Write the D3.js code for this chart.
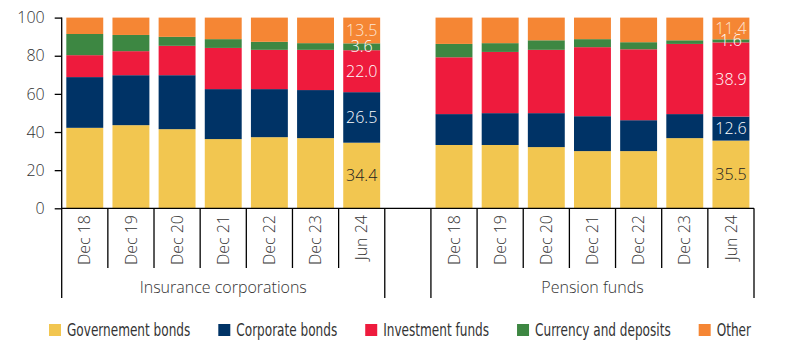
<!DOCTYPE html>
<html>
<head>
<meta charset="utf-8">
<script src="https://cdn.jsdelivr.net/npm/d3@7"></script>
<style>
  html, body { margin: 0; padding: 0; background: #fff; }
  svg { display: block; }
  text { font-family: "Open Sans", sans-serif; font-weight: 300; fill: #333; }
  .legend text { font-family: "DejaVu Sans", sans-serif; font-stretch: condensed; font-weight: 400; fill: #333; }
</style>
</head>
<body>
<svg id="chart" width="792" height="349"></svg>
<script>
// portfolio shares (%), by sector and period
var categories = ["Dec 18", "Dec 19", "Dec 20", "Dec 21", "Dec 22", "Dec 23", "Jun 24"];
var groups = ["Insurance corporations", "Pension funds"];
var seriesNames = ["Governement bonds", "Corporate bonds", "Investment funds", "Currency and deposits", "Other"];
var yTicks = [0, 20, 40, 60, 80, 100];

var insGov   = [42.2, 43.6, 41.5, 36.3, 37.3, 36.8, 34.4];
var insCorp  = [26.6, 26.2, 28.3, 26.2, 25.2, 25.2, 26.5];
var insInv   = [11.5, 12.6, 15.4, 21.6, 20.6, 21.1, 22.0];
var insCur   = [11.1, 8.5, 4.7, 4.6, 4.2, 3.5, 3.6];
var insOther = [8.6, 9.1, 10.1, 11.3, 12.7, 13.4, 13.5];

var penGov   = [33.2, 33.2, 32.1, 30.0, 30.0, 36.8, 35.5];
var penCorp  = [16.2, 16.7, 17.8, 18.3, 16.2, 12.6, 12.6];
var penInv   = [29.8, 32.1, 33.2, 36.2, 37.2, 36.8, 38.9];
var penCur   = [7.0, 4.6, 5.0, 4.2, 3.7, 1.9, 1.6];
var penOther = [13.8, 13.4, 11.9, 11.3, 12.9, 11.9, 11.4];

var colors = ["#F2C650", "#003366", "#EE1B3D", "#3D8742", "#F58634"];
var labelColors = ["#222", "#fff", "#fff", "#fff", "#fde6d6"];
var labelledCategory = "Jun 24";

var groupValues = [
  [insGov, insCorp, insInv, insCur, insOther],
  [penGov, penCorp, penInv, penCur, penOther]
];

// one row per bar; an empty slot sits between the two groups
var rows = [];
var domain = [];
groups.forEach(function(g, gi){
  if (gi > 0) domain.push("gap" + gi);
  categories.forEach(function(c, ci){
    var key = g + "|" + c;
    var row = { key: key, cat: c, group: g };
    seriesNames.forEach(function(s, si){ row[s] = groupValues[gi][si][ci]; });
    rows.push(row);
    domain.push(key);
  });
});

var svg = d3.select("#chart");
var m = { left: 61.7, right: 754, top: 17.6, bottom: 208.3 };

var x = d3.scaleBand().domain(domain).range([m.left, m.right]).paddingInner(0.2).paddingOuter(0.1);
var y = d3.scaleLinear().domain([0, 100]).range([m.bottom, m.top]);
var stack = d3.stack().keys(seriesNames)(rows);

// bars
var layers = svg.append("g").selectAll("g").data(stack).enter().append("g")
  .attr("fill", function(d, i){ return colors[i]; });
layers.selectAll("rect").data(function(d){ return d; }).enter().append("rect")
  .attr("x", function(d){ return x(d.data.key); })
  .attr("width", x.bandwidth())
  .attr("y", function(d){ return y(d[1]); })
  .attr("height", function(d){ return y(d[0]) - y(d[1]); });

// value labels on the latest bars, drawn above every segment
var labels = svg.append("g");
stack.forEach(function(layer, li){
  labels.selectAll(null)
    .data(layer.filter(function(d){ return d.data.cat === labelledCategory; }))
    .enter().append("text")
    .attr("x", function(d){ return x(d.data.key) + x.bandwidth() / 2; })
    .attr("y", function(d){ return y((d[0] + d[1]) / 2); })
    .attr("dy", "0.35em")
    .attr("text-anchor", "middle")
    .style("font-size", "16px")
    .style("fill", labelColors[li])
    .text(function(d){ return d.data[layer.key].toFixed(1); });
});

// y axis
var yAxis = svg.append("g").attr("transform", "translate(" + m.left + ",0)")
  .call(d3.axisLeft(y).tickValues(yTicks).tickSize(7).tickPadding(10));
yAxis.select(".domain").attr("d", "M0," + m.top + "V" + 298);
yAxis.selectAll("line, .domain").attr("stroke", "#000").attr("stroke-width", 1.3);
yAxis.selectAll("text").attr("font-family", null).style("font-size", "16px").style("fill", "#333");

// x axis baseline, slot dividers and labels
var step = x.step();
var ax = svg.append("g").attr("stroke", "#000").attr("stroke-width", 1.3);
ax.append("line").attr("x1", m.left).attr("x2", m.right).attr("y1", m.bottom).attr("y2", m.bottom);
d3.range(1, domain.length + 1).forEach(function(i){
  var long = i === domain.length || i === categories.length || i === categories.length + 1;
  var xx = m.left + i * step;
  ax.append("line").attr("x1", xx).attr("x2", xx).attr("y1", m.bottom).attr("y2", long ? 298 : 268);
});

svg.append("g").selectAll("text").data(rows).enter().append("text")
  .attr("transform", function(d){
    return "translate(" + (x(d.key) + x.bandwidth() / 2) + ",215) rotate(-90)";
  })
  .attr("dy", "0.35em")
  .attr("text-anchor", "end")
  .style("font-size", "16px")
  .text(function(d){ return d.cat; });

svg.append("g").selectAll("text").data(groups).enter().append("text")
  .attr("x", function(g){
    var a = x(g + "|" + categories[0]) - step * 0.1;
    var b = x(g + "|" + categories[categories.length - 1]) + x.bandwidth() + step * 0.1;
    return (a + b) / 2;
  })
  .attr("y", 287)
  .attr("dy", "0.35em")
  .attr("text-anchor", "middle")
  .style("font-size", "16px")
  .text(function(g){ return g; });

// legend: narrow type, squeezed a little further
var squeeze = 0.79;
var legend = svg.append("g").attr("class", "legend").attr("transform", "translate(49,330)");
var lx = 0;
seriesNames.forEach(function(s, i){
  var item = legend.append("g").attr("transform", "translate(" + lx + ",0)");
  item.append("rect").attr("x", 0).attr("y", -6).attr("width", 12).attr("height", 12).attr("fill", colors[i]);
  var t = item.append("text").attr("x", 18).attr("dy", "0.36em").style("font-size", "17px").text(s);
  var w = t.node().getComputedTextLength() * squeeze;
  t.attr("textLength", w).attr("lengthAdjust", "spacingAndGlyphs");
  lx += 18 + w + 28;
});
</script>
</body>
</html>
